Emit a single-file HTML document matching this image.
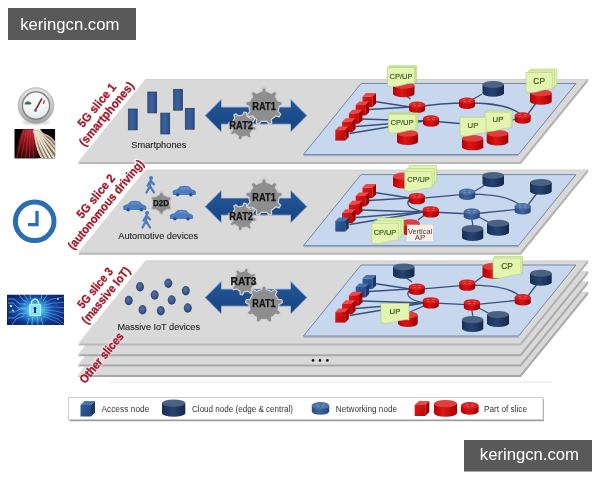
<!DOCTYPE html><html><head><meta charset="utf-8"><style>html,body{margin:0;padding:0;background:#fff;width:600px;height:480px;overflow:hidden}svg{display:block}text{font-family:"Liberation Sans",sans-serif}</style></head><body>
<svg style="opacity:0.999" width="600" height="480" viewBox="0 0 600 480">
<defs>
<linearGradient id="gRed" x1="0" x2="1" y1="0" y2="0"><stop offset="0" stop-color="#b30000"/><stop offset="0.4" stop-color="#de1515"/><stop offset="1" stop-color="#a50000"/></linearGradient>
<linearGradient id="gCubeR" x1="0" x2="1" y1="0" y2="1"><stop offset="0" stop-color="#e01a1a"/><stop offset="1" stop-color="#b80404"/></linearGradient>
<linearGradient id="gCubeB" x1="0" x2="1" y1="0" y2="1"><stop offset="0" stop-color="#2f5d9a"/><stop offset="1" stop-color="#22467e"/></linearGradient>
<linearGradient id="gNavy" x1="0" x2="1" y1="0" y2="0"><stop offset="0" stop-color="#183057"/><stop offset="0.45" stop-color="#264471"/><stop offset="1" stop-color="#15284a"/></linearGradient>
<linearGradient id="gRedN" x1="0" x2="1" y1="0" y2="0"><stop offset="0" stop-color="#b00000"/><stop offset="0.45" stop-color="#d81010"/><stop offset="1" stop-color="#a00000"/></linearGradient>
<linearGradient id="gBlueN" x1="0" x2="1" y1="0" y2="0"><stop offset="0" stop-color="#2a4c82"/><stop offset="0.45" stop-color="#3f649b"/><stop offset="1" stop-color="#26467a"/></linearGradient>
<linearGradient id="gBlue" x1="0" x2="1" y1="0" y2="0"><stop offset="0" stop-color="#2e5890"/><stop offset="0.45" stop-color="#4c7ab5"/><stop offset="1" stop-color="#285086"/></linearGradient>
<linearGradient id="gArrow" x1="0" x2="0" y1="0" y2="1"><stop offset="0" stop-color="#255899"/><stop offset="0.5" stop-color="#1d4d8c"/><stop offset="1" stop-color="#1a4580"/></linearGradient>
<linearGradient id="gPhone" x1="0" x2="1" y1="0" y2="0"><stop offset="0" stop-color="#30558c"/><stop offset="0.5" stop-color="#3a629e"/><stop offset="1" stop-color="#294a7f"/></linearGradient>
<radialGradient id="gDot" cx="0.45" cy="0.4" r="0.65"><stop offset="0" stop-color="#5573a6"/><stop offset="1" stop-color="#223e6c"/></radialGradient>
<linearGradient id="gBezel" x1="0" x2="0" y1="0" y2="1"><stop offset="0" stop-color="#e2e2e2"/><stop offset="0.55" stop-color="#c6c6c6"/><stop offset="1" stop-color="#a2a2a2"/></linearGradient>
<radialGradient id="gFace" cx="0.5" cy="0.35" r="0.7"><stop offset="0" stop-color="#ffffff"/><stop offset="0.7" stop-color="#eef2f4"/><stop offset="1" stop-color="#d7dde2"/></radialGradient>
<radialGradient id="gGlow" cx="0.5" cy="0.5" r="0.5"><stop offset="0" stop-color="#b8f6ff"/><stop offset="0.3" stop-color="#5cd4f4"/><stop offset="0.7" stop-color="#2a8ad8" stop-opacity="0.55"/><stop offset="1" stop-color="#1a4fb0" stop-opacity="0"/></radialGradient>
<radialGradient id="gLockBg" cx="0.5" cy="0.5" r="0.65"><stop offset="0" stop-color="#1f5cc0"/><stop offset="0.6" stop-color="#143e98"/><stop offset="1" stop-color="#0a1f66"/></radialGradient>
<radialGradient id="gRedFan" cx="0.68" cy="0.0" r="1.05"><stop offset="0" stop-color="#c8283a"/><stop offset="0.45" stop-color="#8c141c"/><stop offset="1" stop-color="#2a0404"/></radialGradient>
<clipPath id="clipLock"><rect x="7" y="294.5" width="57" height="30.5"/></clipPath>
<clipPath id="clipTrail"><rect x="14.3" y="129" width="41" height="29.5"/></clipPath>
<filter id="blur1" x="-20%" y="-20%" width="140%" height="140%"><feGaussianBlur stdDeviation="0.8"/></filter>
<filter id="blur05"><feGaussianBlur stdDeviation="0.45"/></filter>
</defs>
<rect width="600" height="480" fill="#fff"/>
<polygon points="145.5,293.9 588.5,293.9 521.0,376.9 78.0,376.9" fill="#a8a8a8"/><polygon points="145.5,291.9 588.5,291.9 521.0,374.9 78.0,374.9" fill="#d9d9d9"/><line x1="146.0" y1="292.4" x2="588.0" y2="292.4" stroke="#cfcfcf" stroke-width="0.8"/><line x1="588.1" y1="292.2" x2="520.6" y2="374.9" stroke="#ababab" stroke-width="1.1"/>
<polygon points="145.5,283.6 588.5,283.6 521.0,366.6 78.0,366.6" fill="#a8a8a8"/><polygon points="145.5,281.6 588.5,281.6 521.0,364.6 78.0,364.6" fill="#d9d9d9"/><line x1="146.0" y1="282.1" x2="588.0" y2="282.1" stroke="#cfcfcf" stroke-width="0.8"/><line x1="588.1" y1="281.90000000000003" x2="520.6" y2="364.6" stroke="#ababab" stroke-width="1.1"/>
<polygon points="145.5,273.3 588.5,273.3 521.0,356.3 78.0,356.3" fill="#a8a8a8"/><polygon points="145.5,271.3 588.5,271.3 521.0,354.3 78.0,354.3" fill="#d9d9d9"/><line x1="146.0" y1="271.8" x2="588.0" y2="271.8" stroke="#cfcfcf" stroke-width="0.8"/><line x1="588.1" y1="271.6" x2="520.6" y2="354.3" stroke="#ababab" stroke-width="1.1"/>
<polygon points="145.5,81 588.5,81 521.0,164 78.0,164" fill="#b9b9b9"/><polygon points="145.5,79 588.5,79 521.0,162 78.0,162" fill="#d9d9d9"/><line x1="146.0" y1="79.5" x2="588.0" y2="79.5" stroke="#cfcfcf" stroke-width="0.8"/><line x1="588.1" y1="79.3" x2="520.6" y2="162" stroke="#ababab" stroke-width="1.1"/>
<line x1="303.5" y1="155.5" x2="518.5" y2="155.5" stroke="#a9b4c4" stroke-width="1.4"/><polygon points="361,83.5 576,83.5 518.5,154.5 303.5,154.5" fill="#c7d7ed" stroke="#7189ad" stroke-width="1"/>
<polygon points="145.5,171.7 588.5,171.7 521.0,254.7 78.0,254.7" fill="#b9b9b9"/><polygon points="145.5,169.7 588.5,169.7 521.0,252.7 78.0,252.7" fill="#d9d9d9"/><line x1="146.0" y1="170.2" x2="588.0" y2="170.2" stroke="#cfcfcf" stroke-width="0.8"/><line x1="588.1" y1="170.0" x2="520.6" y2="252.7" stroke="#ababab" stroke-width="1.1"/>
<line x1="303.5" y1="246.6" x2="518.5" y2="246.6" stroke="#a9b4c4" stroke-width="1.4"/><polygon points="361,174.6 576,174.6 518.5,245.6 303.5,245.6" fill="#c7d7ed" stroke="#7189ad" stroke-width="1"/>
<polygon points="145.5,262.5 588.5,262.5 521.0,345.5 78.0,345.5" fill="#b9b9b9"/><polygon points="145.5,260.5 588.5,260.5 521.0,343.5 78.0,343.5" fill="#d9d9d9"/><line x1="146.0" y1="261.0" x2="588.0" y2="261.0" stroke="#cfcfcf" stroke-width="0.8"/><line x1="588.1" y1="260.8" x2="520.6" y2="343.5" stroke="#ababab" stroke-width="1.1"/>
<line x1="303.5" y1="337.0" x2="518.5" y2="337.0" stroke="#a9b4c4" stroke-width="1.4"/><polygon points="361,265 576,265 518.5,336 303.5,336" fill="#c7d7ed" stroke="#7189ad" stroke-width="1"/>
<line x1="374.5" y1="101.5" x2="410" y2="107" stroke="#38507e" stroke-width="1.3"/><line x1="369" y1="109.5" x2="410" y2="107" stroke="#38507e" stroke-width="1.3"/><line x1="362" y1="119" x2="424" y2="121" stroke="#38507e" stroke-width="1.3"/><line x1="355.5" y1="126.5" x2="424" y2="121" stroke="#38507e" stroke-width="1.3"/><line x1="349.5" y1="133.5" x2="424" y2="121" stroke="#38507e" stroke-width="1.3"/>
<line x1="410.5" y1="99" x2="405" y2="95" stroke="#38507e" stroke-width="1.3"/>
<line x1="481.7" y1="94.3" x2="470" y2="101" stroke="#38507e" stroke-width="1.3"/>
<path d="M417,107 C435,104 450,103 467,103 C490,103 512,105 522.5,116" fill="none" stroke="#38507e" stroke-width="1.3"/>
<line x1="430" y1="121" x2="460" y2="123.5" stroke="#38507e" stroke-width="1.3"/>
<line x1="510" y1="121" x2="518" y2="118" stroke="#38507e" stroke-width="1.3"/>
<line x1="528" y1="114" x2="536" y2="103" stroke="#38507e" stroke-width="1.3"/>
<rect x="362.5" y="96.5" width="10.0" height="10.5" fill="url(#gCubeR)"/><polygon points="362.5,96.5 366.0,93.0 376.0,93.0 372.5,96.5" fill="#ec4848"/><polygon points="372.5,96.5 376.0,93.0 376.0,103.5 372.5,107.0" fill="#a00000"/><rect x="355.7" y="104.9" width="10.0" height="10.5" fill="url(#gCubeR)"/><polygon points="355.7,104.9 359.2,101.4 369.2,101.4 365.7,104.9" fill="#ec4848"/><polygon points="365.7,104.9 369.2,101.4 369.2,111.9 365.7,115.4" fill="#a00000"/><rect x="348.9" y="113.3" width="10.0" height="10.5" fill="url(#gCubeR)"/><polygon points="348.9,113.3 352.4,109.8 362.4,109.8 358.9,113.3" fill="#ec4848"/><polygon points="358.9,113.3 362.4,109.8 362.4,120.3 358.9,123.8" fill="#a00000"/><rect x="342.1" y="121.7" width="10.0" height="10.5" fill="url(#gCubeR)"/><polygon points="342.1,121.7 345.6,118.2 355.6,118.2 352.1,121.7" fill="#ec4848"/><polygon points="352.1,121.7 355.6,118.2 355.6,128.7 352.1,132.2" fill="#a00000"/><rect x="335.3" y="130.1" width="10.0" height="10.5" fill="url(#gCubeR)"/><polygon points="335.3,130.1 338.8,126.6 348.8,126.6 345.3,130.1" fill="#ec4848"/><polygon points="345.3,130.1 348.8,126.6 348.8,137.1 345.3,140.6" fill="#a00000"/>
<path d="M393.0,85.4 L393.0,94.1 A10.8,3.4 0 0 0 414.5,94.1 L414.5,85.4 Z" fill="url(#gRed)"/><ellipse cx="403.8" cy="85.4" rx="10.8" ry="3.4" fill="#e03c3c"/>
<path d="M389.6,65.8 L416.6,65.8 L416.6,81.8 C409.0,80.2 400.4,86.6 389.6,84.6 Z" fill="#e3f5b0" stroke="#b0d47c" stroke-width="0.7"/><path d="M388.6,66.7 L415.6,66.7 L415.6,82.7 C408.0,81.1 399.4,87.5 388.6,85.5 Z" fill="#e3f5b0" stroke="#b0d47c" stroke-width="0.7"/><path d="M387.5,67.5 L414.5,67.5 L414.5,83.5 C406.9,81.9 398.3,88.3 387.5,86.3 Z" fill="#e3f5b0" stroke="#b0d47c" stroke-width="0.7"/><text x="401.00" y="78.90" font-size="7.8" fill="#2f5516" text-anchor="middle" textLength="22.8" lengthAdjust="spacingAndGlyphs" stroke="#2f5516" stroke-width="0.15">CP/UP</text>
<path d="M409.0,104.7 L409.0,109.9 A8.0,3.1 0 0 0 425.0,109.9 L425.0,104.7 Z" fill="url(#gRedN)"/><ellipse cx="417.0" cy="104.7" rx="8.0" ry="3.1" fill="#d82222"/><path d="M412.5,103.8 l3,0 M418.5,103.8 l3,0 M413.5,105.7 l2.5,0 M418.0,105.7 l2.5,0" stroke="#ee6a6a" stroke-width="0.7"/>
<path d="M459.0,100.6 L459.0,105.8 A8.0,3.1 0 0 0 475.0,105.8 L475.0,100.6 Z" fill="url(#gRedN)"/><ellipse cx="467.0" cy="100.6" rx="8.0" ry="3.1" fill="#d82222"/><path d="M462.5,99.7 l3,0 M468.5,99.7 l3,0 M463.5,101.6 l2.5,0 M468.0,101.6 l2.5,0" stroke="#ee6a6a" stroke-width="0.7"/>
<path d="M423.0,118.4 L423.0,123.6 A8.0,3.1 0 0 0 439.0,123.6 L439.0,118.4 Z" fill="url(#gRedN)"/><ellipse cx="431.0" cy="118.4" rx="8.0" ry="3.1" fill="#d82222"/><path d="M426.5,117.5 l3,0 M432.5,117.5 l3,0 M427.5,119.4 l2.5,0 M432.0,119.4 l2.5,0" stroke="#ee6a6a" stroke-width="0.7"/>
<path d="M514.7,115.4 L514.7,120.6 A8.0,3.1 0 0 0 530.7,120.6 L530.7,115.4 Z" fill="url(#gRedN)"/><ellipse cx="522.7" cy="115.4" rx="8.0" ry="3.1" fill="#d82222"/><path d="M518.2,114.5 l3,0 M524.2,114.5 l3,0 M519.2,116.4 l2.5,0 M523.7,116.4 l2.5,0" stroke="#ee6a6a" stroke-width="0.7"/>
<path d="M482.5,84.5 L482.5,93.5 A10.8,3.5 0 0 0 504.0,93.5 L504.0,84.5 Z" fill="url(#gNavy)"/><ellipse cx="493.2" cy="84.5" rx="10.8" ry="3.5" fill="#4c6283"/>
<path d="M397.0,133.3 L397.0,141.7 A10.5,3.3 0 0 0 418.0,141.7 L418.0,133.3 Z" fill="url(#gRed)"/><ellipse cx="407.5" cy="133.3" rx="10.5" ry="3.3" fill="#e03c3c"/>
<path d="M390.3,112.9 L417.8,112.9 L417.8,128.7 C410.1,127.1 401.3,133.4 390.3,131.4 Z" fill="#e3f5b0" stroke="#b0d47c" stroke-width="0.7"/><path d="M389.3,113.6 L416.8,113.6 L416.8,129.4 C409.1,127.8 400.3,134.1 389.3,132.1 Z" fill="#e3f5b0" stroke="#b0d47c" stroke-width="0.7"/><path d="M388.3,114.3 L415.8,114.3 L415.8,130.1 C408.1,128.5 399.3,134.8 388.3,132.8 Z" fill="#e3f5b0" stroke="#b0d47c" stroke-width="0.7"/><text x="402.05" y="125.20" font-size="7.8" fill="#2f5516" text-anchor="middle" textLength="23.2" lengthAdjust="spacingAndGlyphs" stroke="#2f5516" stroke-width="0.15">CP/UP</text>
<path d="M530.0,92.9 L530.0,101.4 A10.8,3.4 0 0 0 551.7,101.4 L551.7,92.9 Z" fill="url(#gRed)"/><ellipse cx="540.9" cy="92.9" rx="10.8" ry="3.4" fill="#e03c3c"/>
<path d="M530.4,69.1 L556.7,69.1 L556.7,85.9 C549.3,84.2 540.9,90.9 530.4,88.8 Z" fill="#e3f5b0" stroke="#b0d47c" stroke-width="0.7"/><path d="M528.2,70.8 L554.5,70.8 L554.5,87.6 C547.1,85.9 538.7,92.6 528.2,90.5 Z" fill="#e3f5b0" stroke="#b0d47c" stroke-width="0.7"/><path d="M526.0,72.5 L552.3,72.5 L552.3,89.3 C544.9,87.6 536.5,94.3 526.0,92.2 Z" fill="#e3f5b0" stroke="#b0d47c" stroke-width="0.7"/><text x="539.15" y="84.20" font-size="8.4" fill="#2f5516" text-anchor="middle" stroke="#2f5516" stroke-width="0.15">CP</text>
<path d="M486.7,133.4 L486.7,142.0 A10.8,3.4 0 0 0 508.3,142.0 L508.3,133.4 Z" fill="url(#gRed)"/><ellipse cx="497.5" cy="133.4" rx="10.8" ry="3.4" fill="#e03c3c"/>
<path d="M486.2,111.0 L512.2,111.0 L512.2,127.0 C504.9,125.4 496.6,131.8 486.2,129.8 Z" fill="#e3f5b0" stroke="#b0d47c" stroke-width="0.7"/><path d="M485.0,112.2 L511.0,112.2 L511.0,128.2 C503.7,126.6 495.4,133.0 485.0,131.0 Z" fill="#e3f5b0" stroke="#b0d47c" stroke-width="0.7"/><text x="498.00" y="121.80" font-size="7.8" fill="#2f5516" text-anchor="middle" stroke="#2f5516" stroke-width="0.15">UP</text>
<path d="M462.0,138.4 L462.0,147.2 A10.7,3.4 0 0 0 483.3,147.2 L483.3,138.4 Z" fill="url(#gRed)"/><ellipse cx="472.6" cy="138.4" rx="10.7" ry="3.4" fill="#e03c3c"/>
<path d="M460.0,117.3 L486.0,117.3 L486.0,133.1 C478.7,131.5 470.4,137.8 460.0,135.8 Z" fill="#e3f5b0" stroke="#b0d47c" stroke-width="0.7"/><text x="473.00" y="127.50" font-size="7.8" fill="#2f5516" text-anchor="middle" stroke="#2f5516" stroke-width="0.15">UP</text>
<line x1="374.5" y1="192.5" x2="410" y2="198" stroke="#38507e" stroke-width="1.3"/><line x1="369" y1="200.5" x2="410" y2="198" stroke="#38507e" stroke-width="1.3"/><line x1="362" y1="210" x2="424" y2="212" stroke="#38507e" stroke-width="1.3"/><line x1="355.5" y1="217.5" x2="424" y2="212" stroke="#38507e" stroke-width="1.3"/><line x1="349.5" y1="224.5" x2="424" y2="212" stroke="#38507e" stroke-width="1.3"/>
<path d="M417,198.6 L467,194.2 C492,194.2 516,197 522.7,208.8 L471.8,214 L430.8,212 C414,212 403,205 410,199" fill="none" stroke="#38507e" stroke-width="1.3"/>
<line x1="475" y1="191" x2="485" y2="185" stroke="#38507e" stroke-width="1.3"/>
<line x1="528" y1="205" x2="537" y2="193" stroke="#38507e" stroke-width="1.3"/>
<line x1="471" y1="214" x2="473" y2="226" stroke="#38507e" stroke-width="1.3"/>
<line x1="477" y1="216" x2="492" y2="224" stroke="#38507e" stroke-width="1.3"/>
<line x1="426" y1="214" x2="418" y2="220" stroke="#38507e" stroke-width="1.3"/>
<rect x="362.5" y="187.5" width="10.0" height="10.5" fill="url(#gCubeR)"/><polygon points="362.5,187.5 366.0,184.0 376.0,184.0 372.5,187.5" fill="#ec4848"/><polygon points="372.5,187.5 376.0,184.0 376.0,194.5 372.5,198.0" fill="#a00000"/><rect x="355.7" y="195.9" width="10.0" height="10.5" fill="url(#gCubeR)"/><polygon points="355.7,195.9 359.2,192.4 369.2,192.4 365.7,195.9" fill="#ec4848"/><polygon points="365.7,195.9 369.2,192.4 369.2,202.9 365.7,206.4" fill="#a00000"/><rect x="348.9" y="204.3" width="10.0" height="10.5" fill="url(#gCubeR)"/><polygon points="348.9,204.3 352.4,200.8 362.4,200.8 358.9,204.3" fill="#ec4848"/><polygon points="358.9,204.3 362.4,200.8 362.4,211.3 358.9,214.8" fill="#a00000"/><rect x="342.1" y="212.7" width="10.0" height="10.5" fill="url(#gCubeR)"/><polygon points="342.1,212.7 345.6,209.2 355.6,209.2 352.1,212.7" fill="#ec4848"/><polygon points="352.1,212.7 355.6,209.2 355.6,219.7 352.1,223.2" fill="#a00000"/><rect x="335.3" y="221.1" width="10.0" height="10.5" fill="url(#gCubeB)"/><polygon points="335.3,221.1 338.8,217.6 348.8,217.6 345.3,221.1" fill="#4a74ad"/><polygon points="345.3,221.1 348.8,217.6 348.8,228.1 345.3,231.6" fill="#1a3766"/>
<path d="M393.0,176.2 L393.0,185.2 A10.8,3.6 0 0 0 414.5,185.2 L414.5,176.2 Z" fill="url(#gRed)"/><ellipse cx="403.8" cy="176.2" rx="10.8" ry="3.6" fill="#e03c3c"/>
<path d="M409.1,165.5 L436.6,165.5 L436.6,181.9 C428.9,180.3 420.1,186.8 409.1,184.8 Z" fill="#e3f5b0" stroke="#b0d47c" stroke-width="0.7"/><path d="M406.9,168.6 L434.4,168.6 L434.4,185.0 C426.7,183.4 417.9,189.9 406.9,187.9 Z" fill="#e3f5b0" stroke="#b0d47c" stroke-width="0.7"/><path d="M404.7,171.7 L432.2,171.7 L432.2,188.1 C424.5,186.5 415.7,193.0 404.7,191.0 Z" fill="#e3f5b0" stroke="#b0d47c" stroke-width="0.7"/><text x="418.45" y="182.00" font-size="8" fill="#2f5516" text-anchor="middle" textLength="22.5" lengthAdjust="spacingAndGlyphs" stroke="#2f5516" stroke-width="0.15">CP/UP</text>
<path d="M408.8,196.0 L408.8,201.2 A8.0,3.1 0 0 0 424.8,201.2 L424.8,196.0 Z" fill="url(#gRedN)"/><ellipse cx="416.8" cy="196.0" rx="8.0" ry="3.1" fill="#d82222"/><path d="M412.3,195.1 l3,0 M418.3,195.1 l3,0 M413.3,197.0 l2.5,0 M417.8,197.0 l2.5,0" stroke="#ee6a6a" stroke-width="0.7"/>
<path d="M422.8,209.3 L422.8,214.5 A8.0,3.1 0 0 0 438.8,214.5 L438.8,209.3 Z" fill="url(#gRedN)"/><ellipse cx="430.8" cy="209.3" rx="8.0" ry="3.1" fill="#d82222"/><path d="M426.3,208.4 l3,0 M432.3,208.4 l3,0 M427.3,210.3 l2.5,0 M431.8,210.3 l2.5,0" stroke="#ee6a6a" stroke-width="0.7"/>
<path d="M459.2,191.6 L459.2,196.8 A8.0,3.1 0 0 0 475.2,196.8 L475.2,191.6 Z" fill="url(#gBlueN)"/><ellipse cx="467.2" cy="191.6" rx="8.0" ry="3.1" fill="#4d71a6"/><path d="M462.7,190.7 l3,0 M468.7,190.7 l3,0 M463.7,192.6 l2.5,0 M468.2,192.6 l2.5,0" stroke="#86a4cc" stroke-width="0.7"/>
<path d="M463.8,211.4 L463.8,216.6 A8.0,3.1 0 0 0 479.8,216.6 L479.8,211.4 Z" fill="url(#gBlueN)"/><ellipse cx="471.8" cy="211.4" rx="8.0" ry="3.1" fill="#4d71a6"/><path d="M467.3,210.5 l3,0 M473.3,210.5 l3,0 M468.3,212.4 l2.5,0 M472.8,212.4 l2.5,0" stroke="#86a4cc" stroke-width="0.7"/>
<path d="M514.7,206.2 L514.7,211.4 A8.0,3.1 0 0 0 530.7,211.4 L530.7,206.2 Z" fill="url(#gBlueN)"/><ellipse cx="522.7" cy="206.2" rx="8.0" ry="3.1" fill="#4d71a6"/><path d="M518.2,205.3 l3,0 M524.2,205.3 l3,0 M519.2,207.2 l2.5,0 M523.7,207.2 l2.5,0" stroke="#86a4cc" stroke-width="0.7"/>
<path d="M482.5,175.4 L482.5,184.1 A10.8,3.4 0 0 0 504.0,184.1 L504.0,175.4 Z" fill="url(#gNavy)"/><ellipse cx="493.2" cy="175.4" rx="10.8" ry="3.4" fill="#4c6283"/>
<path d="M530.0,182.5 L530.0,191.3 A10.8,3.5 0 0 0 551.7,191.3 L551.7,182.5 Z" fill="url(#gNavy)"/><ellipse cx="540.9" cy="182.5" rx="10.8" ry="3.5" fill="#4c6283"/>
<path d="M487.0,223.3 L487.0,232.3 A11.0,3.5 0 0 0 509.0,232.3 L509.0,223.3 Z" fill="url(#gNavy)"/><ellipse cx="498.0" cy="223.3" rx="11.0" ry="3.5" fill="#4c6283"/>
<path d="M462.0,228.6 L462.0,237.7 A10.7,3.6 0 0 0 483.3,237.7 L483.3,228.6 Z" fill="url(#gNavy)"/><ellipse cx="472.6" cy="228.6" rx="10.7" ry="3.6" fill="#4c6283"/>
<path d="M400.5,222.8 L400.5,231.8 A9.5,3.5 0 0 0 419.5,231.8 L419.5,222.8 Z" fill="url(#gRed)"/><ellipse cx="410.0" cy="222.8" rx="9.5" ry="3.5" fill="#e03c3c"/>
<path d="M377.1,218.0 L403.7,218.0 L403.7,235.1 C396.3,233.4 387.7,240.3 377.1,238.1 Z" fill="#e3f5b0" stroke="#b0d47c" stroke-width="0.7"/><path d="M374.4,220.7 L401.0,220.7 L401.0,237.8 C393.6,236.1 385.0,242.9 374.4,240.8 Z" fill="#e3f5b0" stroke="#b0d47c" stroke-width="0.7"/><path d="M371.7,223.3 L398.3,223.3 L398.3,240.4 C390.9,238.7 382.3,245.6 371.7,243.4 Z" fill="#e3f5b0" stroke="#b0d47c" stroke-width="0.7"/><text x="385.00" y="234.70" font-size="7.6" fill="#2f5516" text-anchor="middle" textLength="22.6" lengthAdjust="spacingAndGlyphs" stroke="#2f5516" stroke-width="0.15">CP/UP</text>
<rect x="407" y="224.7" width="26" height="16.3" fill="#fcefe5"/>
<text x="420.10" y="233.70" font-size="7.8" fill="#4a4040" text-anchor="middle" textLength="24.2" lengthAdjust="spacingAndGlyphs">Vertical</text>
<text x="420.00" y="240.20" font-size="7.8" fill="#4a4040" text-anchor="middle">AP</text>
<line x1="374.5" y1="283.5" x2="410" y2="289" stroke="#38507e" stroke-width="1.3"/><line x1="369" y1="291.5" x2="410" y2="289" stroke="#38507e" stroke-width="1.3"/><line x1="362" y1="301" x2="424" y2="303" stroke="#38507e" stroke-width="1.3"/><line x1="355.5" y1="308.5" x2="424" y2="303" stroke="#38507e" stroke-width="1.3"/><line x1="349.5" y1="315.5" x2="424" y2="303" stroke="#38507e" stroke-width="1.3"/>
<path d="M417,289.3 L467.2,285.1 C492,285.1 516,288 522.7,299.8 L471.9,304.9 L430.8,302.9 C414,303 403,296 410,290" fill="none" stroke="#38507e" stroke-width="1.3"/>
<line x1="412" y1="282" x2="405" y2="277" stroke="#38507e" stroke-width="1.3"/>
<line x1="475" y1="282" x2="486" y2="274" stroke="#38507e" stroke-width="1.3"/>
<line x1="528" y1="296" x2="537" y2="284" stroke="#38507e" stroke-width="1.3"/>
<line x1="471" y1="305" x2="473" y2="317" stroke="#38507e" stroke-width="1.3"/>
<line x1="477" y1="307" x2="492" y2="315" stroke="#38507e" stroke-width="1.3"/>
<line x1="426" y1="305" x2="410" y2="312" stroke="#38507e" stroke-width="1.3"/>
<rect x="362.5" y="278.5" width="10.0" height="10.5" fill="url(#gCubeB)"/><polygon points="362.5,278.5 366.0,275.0 376.0,275.0 372.5,278.5" fill="#4a74ad"/><polygon points="372.5,278.5 376.0,275.0 376.0,285.5 372.5,289.0" fill="#1a3766"/><rect x="355.7" y="286.9" width="10.0" height="10.5" fill="url(#gCubeB)"/><polygon points="355.7,286.9 359.2,283.4 369.2,283.4 365.7,286.9" fill="#4a74ad"/><polygon points="365.7,286.9 369.2,283.4 369.2,293.9 365.7,297.4" fill="#1a3766"/><rect x="348.9" y="295.3" width="10.0" height="10.5" fill="url(#gCubeR)"/><polygon points="348.9,295.3 352.4,291.8 362.4,291.8 358.9,295.3" fill="#ec4848"/><polygon points="358.9,295.3 362.4,291.8 362.4,302.3 358.9,305.8" fill="#a00000"/><rect x="342.1" y="303.7" width="10.0" height="10.5" fill="url(#gCubeR)"/><polygon points="342.1,303.7 345.6,300.2 355.6,300.2 352.1,303.7" fill="#ec4848"/><polygon points="352.1,303.7 355.6,300.2 355.6,310.7 352.1,314.2" fill="#a00000"/><rect x="335.3" y="312.1" width="10.0" height="10.5" fill="url(#gCubeR)"/><polygon points="335.3,312.1 338.8,308.6 348.8,308.6 345.3,312.1" fill="#ec4848"/><polygon points="345.3,312.1 348.8,308.6 348.8,319.1 345.3,322.6" fill="#a00000"/>
<path d="M393.0,266.9 L393.0,275.6 A10.8,3.4 0 0 0 414.5,275.6 L414.5,266.9 Z" fill="url(#gNavy)"/><ellipse cx="403.8" cy="266.9" rx="10.8" ry="3.4" fill="#4c6283"/>
<path d="M408.8,286.7 L408.8,291.9 A8.0,3.1 0 0 0 424.8,291.9 L424.8,286.7 Z" fill="url(#gRedN)"/><ellipse cx="416.8" cy="286.7" rx="8.0" ry="3.1" fill="#d82222"/><path d="M412.3,285.8 l3,0 M418.3,285.8 l3,0 M413.3,287.7 l2.5,0 M417.8,287.7 l2.5,0" stroke="#ee6a6a" stroke-width="0.7"/>
<path d="M422.8,300.3 L422.8,305.5 A8.0,3.1 0 0 0 438.8,305.5 L438.8,300.3 Z" fill="url(#gRedN)"/><ellipse cx="430.8" cy="300.3" rx="8.0" ry="3.1" fill="#d82222"/><path d="M426.3,299.4 l3,0 M432.3,299.4 l3,0 M427.3,301.3 l2.5,0 M431.8,301.3 l2.5,0" stroke="#ee6a6a" stroke-width="0.7"/>
<path d="M459.2,282.5 L459.2,287.7 A8.0,3.1 0 0 0 475.2,287.7 L475.2,282.5 Z" fill="url(#gRedN)"/><ellipse cx="467.2" cy="282.5" rx="8.0" ry="3.1" fill="#d82222"/><path d="M462.7,281.6 l3,0 M468.7,281.6 l3,0 M463.7,283.5 l2.5,0 M468.2,283.5 l2.5,0" stroke="#ee6a6a" stroke-width="0.7"/>
<path d="M463.9,302.3 L463.9,307.5 A8.0,3.1 0 0 0 479.9,307.5 L479.9,302.3 Z" fill="url(#gRedN)"/><ellipse cx="471.9" cy="302.3" rx="8.0" ry="3.1" fill="#d82222"/><path d="M467.4,301.4 l3,0 M473.4,301.4 l3,0 M468.4,303.3 l2.5,0 M472.9,303.3 l2.5,0" stroke="#ee6a6a" stroke-width="0.7"/>
<path d="M514.7,297.2 L514.7,302.4 A8.0,3.1 0 0 0 530.7,302.4 L530.7,297.2 Z" fill="url(#gRedN)"/><ellipse cx="522.7" cy="297.2" rx="8.0" ry="3.1" fill="#d82222"/><path d="M518.2,296.3 l3,0 M524.2,296.3 l3,0 M519.2,298.2 l2.5,0 M523.7,298.2 l2.5,0" stroke="#ee6a6a" stroke-width="0.7"/>
<path d="M482.5,266.5 L482.5,275.5 A10.8,3.5 0 0 0 504.0,275.5 L504.0,266.5 Z" fill="url(#gRed)"/><ellipse cx="493.2" cy="266.5" rx="10.8" ry="3.5" fill="#e03c3c"/>
<path d="M494.5,256.3 L522.5,256.3 L522.5,273.1 C514.7,271.4 505.7,278.1 494.5,276.0 Z" fill="#e3f5b0" stroke="#b0d47c" stroke-width="0.7"/><path d="M493.0,258.0 L521.0,258.0 L521.0,274.8 C513.2,273.1 504.2,279.8 493.0,277.7 Z" fill="#e3f5b0" stroke="#b0d47c" stroke-width="0.7"/><text x="507.00" y="269.20" font-size="8.4" fill="#2f5516" text-anchor="middle" stroke="#2f5516" stroke-width="0.15">CP</text>
<path d="M530.0,273.3 L530.0,282.3 A10.8,3.5 0 0 0 551.7,282.3 L551.7,273.3 Z" fill="url(#gNavy)"/><ellipse cx="540.9" cy="273.3" rx="10.8" ry="3.5" fill="#4c6283"/>
<path d="M487.0,314.5 L487.0,323.5 A11.0,3.5 0 0 0 509.0,323.5 L509.0,314.5 Z" fill="url(#gNavy)"/><ellipse cx="498.0" cy="314.5" rx="11.0" ry="3.5" fill="#4c6283"/>
<path d="M462.0,319.6 L462.0,328.7 A10.7,3.6 0 0 0 483.3,328.7 L483.3,319.6 Z" fill="url(#gNavy)"/><ellipse cx="472.6" cy="319.6" rx="10.7" ry="3.6" fill="#4c6283"/>
<path d="M398.0,314.9 L398.0,323.6 A9.8,3.4 0 0 0 417.7,323.6 L417.7,314.9 Z" fill="url(#gRed)"/><ellipse cx="407.9" cy="314.9" rx="9.8" ry="3.4" fill="#e03c3c"/>
<path d="M381.0,303.5 L409.0,303.5 L409.0,319.9 C401.2,318.3 392.2,324.8 381.0,322.8 Z" fill="#e3f5b0" stroke="#b0d47c" stroke-width="0.7"/><text x="395.00" y="314.30" font-size="7.8" fill="#2f5516" text-anchor="middle" stroke="#2f5516" stroke-width="0.15">UP</text>
<path d="M205,115.6 L221.5,99.0 L221.5,107.0 L290.5,107.0 L290.5,99.0 L307,115.6 L290.5,132.2 L290.5,124.19999999999999 L221.5,124.19999999999999 L221.5,132.2 Z" fill="url(#gArrow)" stroke="#a8bedc" stroke-width="0.9" stroke-linejoin="round"/>
<path d="M240.44,115.42 L242.45,115.22 L244.09,112.09 L246.45,112.57 L246.74,116.09 L248.52,117.06 L250.09,118.35 L253.46,117.29 L254.79,119.30 L252.51,121.99 L253.08,123.94 L253.28,125.95 L256.41,127.59 L255.93,129.95 L252.41,130.24 L251.44,132.02 L250.15,133.59 L251.21,136.96 L249.20,138.29 L246.51,136.01 L244.56,136.58 L242.55,136.78 L240.91,139.91 L238.55,139.43 L238.26,135.91 L236.48,134.94 L234.91,133.65 L231.54,134.71 L230.21,132.70 L232.49,130.01 L231.92,128.06 L231.72,126.05 L228.59,124.41 L229.07,122.05 L232.59,121.76 L233.56,119.98 L234.85,118.41 L233.79,115.04 L235.80,113.71 L238.49,115.99 Z" fill="#8e8e8e" stroke="#d2d2d2" stroke-width="1.2" stroke-linejoin="round"/>
<path d="M258.87,92.22 L261.50,91.52 L262.45,87.86 L265.55,87.86 L266.50,91.52 L269.13,92.22 L271.58,93.38 L274.66,91.18 L277.04,93.17 L275.41,96.59 L276.98,98.81 L278.12,101.27 L281.89,101.57 L282.42,104.62 L278.98,106.20 L278.76,108.90 L278.05,111.52 L280.74,114.18 L279.19,116.86 L275.55,115.85 L273.63,117.78 L271.40,119.33 L271.76,123.09 L268.85,124.15 L266.71,121.04 L264.00,121.28 L261.29,121.04 L259.15,124.15 L256.24,123.09 L256.60,119.33 L254.37,117.78 L252.45,115.85 L248.81,116.86 L247.26,114.18 L249.95,111.52 L249.24,108.90 L249.02,106.20 L245.58,104.62 L246.11,101.57 L249.88,101.27 L251.02,98.81 L252.59,96.59 L250.96,93.17 L253.34,91.18 L256.42,93.38 Z" fill="#8e8e8e" stroke="#d2d2d2" stroke-width="1.2" stroke-linejoin="round"/>
<text x="264.10" y="109.60" font-size="10.4" fill="#151515" text-anchor="middle" font-weight="bold" textLength="23.6" lengthAdjust="spacingAndGlyphs" stroke="#151515" stroke-width="0.25">RAT1</text>
<text x="241.20" y="128.80" font-size="10.4" fill="#151515" text-anchor="middle" font-weight="bold" textLength="23.8" lengthAdjust="spacingAndGlyphs" stroke="#151515" stroke-width="0.25">RAT2</text>
<path d="M205,206.6 L221.5,190.0 L221.5,198.0 L290.5,198.0 L290.5,190.0 L307,206.6 L290.5,223.2 L290.5,215.2 L221.5,215.2 L221.5,223.2 Z" fill="url(#gArrow)" stroke="#a8bedc" stroke-width="0.9" stroke-linejoin="round"/>
<path d="M240.44,206.42 L242.45,206.22 L244.09,203.09 L246.45,203.57 L246.74,207.09 L248.52,208.06 L250.09,209.35 L253.46,208.29 L254.79,210.30 L252.51,212.99 L253.08,214.94 L253.28,216.95 L256.41,218.59 L255.93,220.95 L252.41,221.24 L251.44,223.02 L250.15,224.59 L251.21,227.96 L249.20,229.29 L246.51,227.01 L244.56,227.58 L242.55,227.78 L240.91,230.91 L238.55,230.43 L238.26,226.91 L236.48,225.94 L234.91,224.65 L231.54,225.71 L230.21,223.70 L232.49,221.01 L231.92,219.06 L231.72,217.05 L228.59,215.41 L229.07,213.05 L232.59,212.76 L233.56,210.98 L234.85,209.41 L233.79,206.04 L235.80,204.71 L238.49,206.99 Z" fill="#8e8e8e" stroke="#d2d2d2" stroke-width="1.2" stroke-linejoin="round"/>
<path d="M258.87,183.22 L261.50,182.52 L262.45,178.86 L265.55,178.86 L266.50,182.52 L269.13,183.22 L271.58,184.38 L274.66,182.18 L277.04,184.17 L275.41,187.59 L276.98,189.81 L278.12,192.27 L281.89,192.57 L282.42,195.62 L278.98,197.20 L278.76,199.90 L278.05,202.52 L280.74,205.18 L279.19,207.86 L275.55,206.85 L273.63,208.78 L271.40,210.33 L271.76,214.09 L268.85,215.15 L266.71,212.04 L264.00,212.29 L261.29,212.04 L259.15,215.15 L256.24,214.09 L256.60,210.33 L254.37,208.78 L252.45,206.85 L248.81,207.86 L247.26,205.18 L249.95,202.52 L249.24,199.90 L249.02,197.20 L245.58,195.62 L246.11,192.57 L249.88,192.27 L251.02,189.81 L252.59,187.59 L250.96,184.17 L253.34,182.18 L256.42,184.38 Z" fill="#8e8e8e" stroke="#d2d2d2" stroke-width="1.2" stroke-linejoin="round"/>
<text x="264.10" y="200.60" font-size="10.4" fill="#151515" text-anchor="middle" font-weight="bold" textLength="23.6" lengthAdjust="spacingAndGlyphs" stroke="#151515" stroke-width="0.25">RAT1</text>
<text x="241.20" y="219.80" font-size="10.4" fill="#151515" text-anchor="middle" font-weight="bold" textLength="23.8" lengthAdjust="spacingAndGlyphs" stroke="#151515" stroke-width="0.25">RAT2</text>
<path d="M205,297.6 L221.5,281.0 L221.5,289.0 L290.5,289.0 L290.5,281.0 L307,297.6 L290.5,314.20000000000005 L290.5,306.20000000000005 L221.5,306.20000000000005 L221.5,314.20000000000005 Z" fill="url(#gArrow)" stroke="#a8bedc" stroke-width="0.9" stroke-linejoin="round"/>
<path d="M242.01,271.30 L243.96,271.11 L245.53,268.09 L247.81,268.55 L248.09,271.94 L249.81,272.88 L251.32,274.12 L254.57,273.10 L255.85,275.04 L253.65,277.63 L254.20,279.51 L254.39,281.46 L257.41,283.03 L256.95,285.31 L253.56,285.59 L252.62,287.31 L251.38,288.82 L252.40,292.07 L250.46,293.35 L247.87,291.15 L245.99,291.70 L244.04,291.89 L242.47,294.91 L240.19,294.45 L239.91,291.06 L238.19,290.12 L236.68,288.88 L233.43,289.90 L232.15,287.96 L234.35,285.37 L233.80,283.49 L233.61,281.54 L230.59,279.97 L231.05,277.69 L234.44,277.41 L235.38,275.69 L236.62,274.18 L235.60,270.93 L237.54,269.65 L240.13,271.85 Z" fill="#8e8e8e" stroke="#d2d2d2" stroke-width="1.2" stroke-linejoin="round"/>
<path d="M258.87,290.42 L261.50,289.72 L262.45,286.06 L265.55,286.06 L266.50,289.72 L269.13,290.42 L271.58,291.58 L274.66,289.38 L277.04,291.37 L275.41,294.79 L276.98,297.01 L278.12,299.47 L281.89,299.77 L282.42,302.82 L278.98,304.40 L278.76,307.10 L278.05,309.72 L280.74,312.38 L279.19,315.06 L275.55,314.05 L273.63,315.98 L271.40,317.53 L271.76,321.29 L268.85,322.35 L266.71,319.24 L264.00,319.49 L261.29,319.24 L259.15,322.35 L256.24,321.29 L256.60,317.53 L254.37,315.98 L252.45,314.05 L248.81,315.06 L247.26,312.38 L249.95,309.72 L249.24,307.10 L249.02,304.40 L245.58,302.82 L246.11,299.77 L249.88,299.47 L251.02,297.01 L252.59,294.79 L250.96,291.37 L253.34,289.38 L256.42,291.58 Z" fill="#8e8e8e" stroke="#d2d2d2" stroke-width="1.2" stroke-linejoin="round"/>
<text x="243.50" y="285.00" font-size="10.4" fill="#151515" text-anchor="middle" font-weight="bold" textLength="26" lengthAdjust="spacingAndGlyphs" stroke="#151515" stroke-width="0.25">RAT3</text>
<text x="264.00" y="307.40" font-size="10.4" fill="#151515" text-anchor="middle" font-weight="bold" textLength="23.3" lengthAdjust="spacingAndGlyphs" stroke="#151515" stroke-width="0.25">RAT1</text>
<rect x="128.3" y="109.0" width="8.9" height="20.9" fill="url(#gPhone)" stroke="#1f3a66" stroke-width="0.7"/>
<rect x="147.8" y="92.0" width="8.9" height="20.9" fill="url(#gPhone)" stroke="#1f3a66" stroke-width="0.7"/>
<rect x="160.8" y="113.1" width="8.9" height="20.9" fill="url(#gPhone)" stroke="#1f3a66" stroke-width="0.7"/>
<rect x="173.6" y="89.3" width="8.9" height="20.9" fill="url(#gPhone)" stroke="#1f3a66" stroke-width="0.7"/>
<rect x="185.3" y="108.3" width="8.9" height="20.9" fill="url(#gPhone)" stroke="#1f3a66" stroke-width="0.7"/>
<text x="131.30" y="148.30" font-size="9.6" fill="#262626" text-anchor="start" textLength="55" lengthAdjust="spacingAndGlyphs" stroke="#262626" stroke-width="0.12">Smartphones</text>
<text x="118.30" y="239.00" font-size="9.6" fill="#262626" text-anchor="start" textLength="79.7" lengthAdjust="spacingAndGlyphs" stroke="#262626" stroke-width="0.12">Automotive devices</text>
<text x="117.50" y="330.30" font-size="9.6" fill="#262626" text-anchor="start" textLength="82.5" lengthAdjust="spacingAndGlyphs" stroke="#262626" stroke-width="0.12">Massive IoT devices</text>
<ellipse cx="140" cy="286.7" rx="4" ry="4.7" fill="url(#gDot)"/>
<ellipse cx="168.3" cy="283.3" rx="4" ry="4.7" fill="url(#gDot)"/>
<ellipse cx="185.8" cy="290.8" rx="4" ry="4.7" fill="url(#gDot)"/>
<ellipse cx="154.7" cy="295" rx="4" ry="4.7" fill="url(#gDot)"/>
<ellipse cx="128.7" cy="300.5" rx="4" ry="4.7" fill="url(#gDot)"/>
<ellipse cx="171.7" cy="300" rx="4" ry="4.7" fill="url(#gDot)"/>
<ellipse cx="142.5" cy="309.7" rx="4" ry="4.7" fill="url(#gDot)"/>
<ellipse cx="160.8" cy="310.8" rx="4" ry="4.7" fill="url(#gDot)"/>
<ellipse cx="187.8" cy="308" rx="4" ry="4.7" fill="url(#gDot)"/>
<path d="M157.01,195.67 L158.82,194.89 L160.49,192.13 L162.11,192.13 L163.78,194.89 L165.59,195.67 L167.17,196.85 L170.40,196.92 L171.20,198.31 L169.65,201.14 L169.88,203.10 L169.65,205.06 L171.20,207.89 L170.40,209.28 L167.17,209.35 L165.59,210.53 L163.78,211.31 L162.11,214.07 L160.49,214.07 L158.82,211.31 L157.01,210.53 L155.43,209.35 L152.20,209.28 L151.40,207.89 L152.95,205.06 L152.72,203.10 L152.95,201.14 L151.40,198.31 L152.20,196.92 L155.43,196.85 Z" fill="#8a8a8a" stroke="#c4c4c4" stroke-width="1.2" stroke-linejoin="round"/>
<text x="161.10" y="205.80" font-size="9" fill="#151515" text-anchor="middle" font-weight="bold" textLength="16" lengthAdjust="spacingAndGlyphs" stroke="#151515" stroke-width="0.25">D2D</text>
<path d="M173.0,195.04000000000002 L172.5,191.57500000000002 Q173.44,189.79000000000002 177.2,189.37 L180.255,186.32500000000002 Q184.25,185.275 188.95,186.32500000000002 L192.005,189.58 Q196.0,190.21 196.0,193.15 L195.5,195.04000000000002 Z" fill="#4c7bbf"/><path d="M181.43,187.06 L179.55,189.47500000000002 L190.83,189.47500000000002 L188.48,187.06 Z" fill="#6d97cf" opacity="0.6"/><circle cx="177.67" cy="194.83" r="1.7850000000000001" fill="#2c5290"/><circle cx="190.83" cy="194.83" r="1.7850000000000001" fill="#2c5290"/>
<path d="M123.5,210.04000000000002 L123,206.57500000000002 Q123.94,204.79000000000002 127.7,204.37 L130.755,201.32500000000002 Q134.75,200.275 139.45,201.32500000000002 L142.505,204.58 Q146.5,205.21 146.5,208.15 L146.0,210.04000000000002 Z" fill="#4c7bbf"/><path d="M131.93,202.06 L130.05,204.47500000000002 L141.33,204.47500000000002 L138.98,202.06 Z" fill="#6d97cf" opacity="0.6"/><circle cx="128.17" cy="209.83" r="1.7850000000000001" fill="#2c5290"/><circle cx="141.33" cy="209.83" r="1.7850000000000001" fill="#2c5290"/>
<path d="M170.2,218.94 L169.7,215.475 Q170.64,213.69 174.39999999999998,213.26999999999998 L177.45499999999998,210.225 Q181.45,209.17499999999998 186.14999999999998,210.225 L189.20499999999998,213.48 Q193.2,214.10999999999999 193.2,217.04999999999998 L192.7,218.94 Z" fill="#4c7bbf"/><path d="M178.63,210.95999999999998 L176.75,213.375 L188.03,213.375 L185.67999999999998,210.95999999999998 Z" fill="#6d97cf" opacity="0.6"/><circle cx="174.86999999999998" cy="218.73" r="1.7850000000000001" fill="#2c5290"/><circle cx="188.03" cy="218.73" r="1.7850000000000001" fill="#2c5290"/>
<circle cx="151.0" cy="178" r="2" fill="#4d7bbf"/><path d="M150.5,180.5 L147.5,185.5 M150.5,180.5 L154.0,184.5 M150.5,180.5 L150.0,186 L146.5,192.5 M150.0,186 L154.0,192.5" stroke="#4d7bbf" stroke-width="2.2" stroke-linecap="round" stroke-linejoin="round" fill="none"/>
<circle cx="147.0" cy="213" r="2" fill="#4d7bbf"/><path d="M146.5,215.5 L143.5,220.5 M146.5,215.5 L150.0,219.5 M146.5,215.5 L146.0,221 L142.5,227.5 M146.0,221 L150.0,227.5" stroke="#4d7bbf" stroke-width="2.2" stroke-linecap="round" stroke-linejoin="round" fill="none"/>
<g transform="translate(100.5,107) rotate(-50.5)"><text x="-1.00" y="0.00" font-size="12" fill="#fff" text-anchor="middle" font-weight="bold" textLength="53" lengthAdjust="spacingAndGlyphs" stroke="#fff" stroke-width="2.6" stroke-linejoin="round" filter="url(#blur05)" opacity="0.9">5G slice 1</text><text x="-1.50" y="13.00" font-size="12" fill="#fff" text-anchor="middle" font-weight="bold" textLength="79" lengthAdjust="spacingAndGlyphs" stroke="#fff" stroke-width="2.6" stroke-linejoin="round" filter="url(#blur05)" opacity="0.9">(smartphones)</text><text x="-1.00" y="0.00" font-size="12" fill="#a3192a" text-anchor="middle" font-weight="bold" textLength="53" lengthAdjust="spacingAndGlyphs" stroke="#a3192a" stroke-width="0.3">5G slice 1</text><text x="-1.50" y="13.00" font-size="12" fill="#a3192a" text-anchor="middle" font-weight="bold" textLength="79" lengthAdjust="spacingAndGlyphs" stroke="#a3192a" stroke-width="0.3">(smartphones)</text></g>
<g transform="translate(99.5,198) rotate(-50.5)"><text x="-1.00" y="0.00" font-size="12" fill="#fff" text-anchor="middle" font-weight="bold" textLength="53" lengthAdjust="spacingAndGlyphs" stroke="#fff" stroke-width="2.6" stroke-linejoin="round" filter="url(#blur05)" opacity="0.9">5G slice 2</text><text x="-1.00" y="13.00" font-size="12" fill="#fff" text-anchor="middle" font-weight="bold" textLength="112" lengthAdjust="spacingAndGlyphs" stroke="#fff" stroke-width="2.6" stroke-linejoin="round" filter="url(#blur05)" opacity="0.9">(autonomous driving)</text><text x="-1.00" y="0.00" font-size="12" fill="#a3192a" text-anchor="middle" font-weight="bold" textLength="53" lengthAdjust="spacingAndGlyphs" stroke="#a3192a" stroke-width="0.3">5G slice 2</text><text x="-1.00" y="13.00" font-size="12" fill="#a3192a" text-anchor="middle" font-weight="bold" textLength="112" lengthAdjust="spacingAndGlyphs" stroke="#a3192a" stroke-width="0.3">(autonomous driving)</text></g>
<g transform="translate(99.5,289) rotate(-50.5)"><text x="-2.00" y="0.00" font-size="12" fill="#fff" text-anchor="middle" font-weight="bold" textLength="48.5" lengthAdjust="spacingAndGlyphs" stroke="#fff" stroke-width="2.6" stroke-linejoin="round" filter="url(#blur05)" opacity="0.9">5G slice 3</text><text x="-0.75" y="13.00" font-size="12" fill="#fff" text-anchor="middle" font-weight="bold" textLength="69.5" lengthAdjust="spacingAndGlyphs" stroke="#fff" stroke-width="2.6" stroke-linejoin="round" filter="url(#blur05)" opacity="0.9">(massive IoT)</text><text x="-2.00" y="0.00" font-size="12" fill="#a3192a" text-anchor="middle" font-weight="bold" textLength="48.5" lengthAdjust="spacingAndGlyphs" stroke="#a3192a" stroke-width="0.3">5G slice 3</text><text x="-0.75" y="13.00" font-size="12" fill="#a3192a" text-anchor="middle" font-weight="bold" textLength="69.5" lengthAdjust="spacingAndGlyphs" stroke="#a3192a" stroke-width="0.3">(massive IoT)</text></g>
<g transform="translate(104.6,360.4) rotate(-50.5)"><text x="0.00" y="0.00" font-size="12" fill="#fff" text-anchor="middle" font-weight="bold" textLength="62" lengthAdjust="spacingAndGlyphs" stroke="#fff" stroke-width="2.6" stroke-linejoin="round" filter="url(#blur05)" opacity="0.35">Other slices</text><text x="0.00" y="0.00" font-size="12" fill="#a3192a" text-anchor="middle" font-weight="bold" textLength="62" lengthAdjust="spacingAndGlyphs" stroke="#a3192a" stroke-width="0.3">Other slices</text></g>
<circle cx="313" cy="360.4" r="1.3" fill="#111"/>
<circle cx="320" cy="360.4" r="1.3" fill="#111"/>
<circle cx="327.4" cy="360.4" r="1.3" fill="#111"/>
<ellipse cx="36" cy="122.3" rx="14" ry="2.6" fill="#d8d8d8" filter="url(#blur1)"/>
<circle cx="36" cy="105.6" r="17.8" fill="url(#gBezel)"/>
<circle cx="36" cy="105.6" r="17.8" fill="none" stroke="#a6a6a6" stroke-width="0.8"/>
<circle cx="36" cy="105.6" r="14.3" fill="#7e7e7e"/>
<circle cx="36" cy="105.6" r="13" fill="url(#gFace)"/>
<path d="M24.3,104.2 q1.5,-3.2 4.2,-2.8 q2.6,0.4 3.1,2.3 l-1,0.7 q-3.2,0.2 -6.3,-0.2 Z" fill="#3d6a4c"/>
<path d="M35.3,110.3 L41.7,98.9" stroke="#8c1b25" stroke-width="1.6" stroke-linecap="round"/><path d="M44.4,100.2 L43.5,103.8" stroke="#b02030" stroke-width="1.1"/>
<circle cx="35.5" cy="110.6" r="1.4" fill="#6a6a6a"/>
<g clip-path="url(#clipTrail)">
<rect x="14.3" y="129" width="41" height="29.5" fill="#070303"/>
<path d="M23,129.3 L34,129.3 C35.5,140 36.8,150 37.6,158.5 L15,158.5 C16.5,149 19,139 23,129.3 Z" fill="url(#gRedFan)"/>
<path d="M24,129.5 L16.5,158.5" stroke="#e04850" stroke-width="1.1" opacity="0.35"/>
<path d="M26.5,129.5 L21,158.5" stroke="#e04850" stroke-width="1.1" opacity="0.4"/>
<path d="M28.5,129.5 L25.5,158.5" stroke="#e04850" stroke-width="1.1" opacity="0.45"/>
<path d="M30.5,129.5 L29.5,158.5" stroke="#e04850" stroke-width="1.1" opacity="0.4"/>
<path d="M32.5,129.5 L33.5,158.5" stroke="#e04850" stroke-width="1.1" opacity="0.35"/>
<path d="M33.5,130 C37,129 40,130 42,132 C47,136 52,139 55.3,141.5 L55.3,158.5 L41.5,158.5 C39,150 36,140 33.5,130 Z" fill="#7a6a58"/>
<path d="M33.8,130.5 C36.3,136.0 34.5,146.5 42.5,158.5" stroke="#d9ccb4" stroke-width="2.1" fill="none"/>
<path d="M35.0,130.5 C37.5,136.3 38.5,146.5 46.5,158.5" stroke="#e6dac4" stroke-width="2.1" fill="none"/>
<path d="M36.2,130.5 C38.7,136.6 42.5,146.5 50.5,158.5" stroke="#efe4d0" stroke-width="2.0" fill="none"/>
<path d="M37.4,130.5 C39.9,136.9 46.5,146.5 54.5,158.5" stroke="#e8dcc6" stroke-width="2.0" fill="none"/>
<path d="M38.6,130.5 C41.1,137.2 47.3,140.5 55.3,152.5" stroke="#e2d6c0" stroke-width="1.9" fill="none"/>
<path d="M39.6,130.5 C42.1,137.5 47.3,135.5 55.3,147.5" stroke="#d8ccb4" stroke-width="1.8" fill="none"/>
<path d="M40.5,130.5 C43.0,137.8 47.3,131 55.3,143" stroke="#cdc0a8" stroke-width="1.6" fill="none"/>
<path d="M33.5,129.6 Q37,128.8 40.5,130.2" stroke="#f4ecdc" stroke-width="1.6" fill="none"/>
</g>
<circle cx="34.7" cy="221.3" r="19.3" fill="none" stroke="#2b6cb3" stroke-width="5"/><path d="M37,211 L37,224.6 L28,224.6" stroke="#2b6cb3" stroke-width="3.3" fill="none" stroke-linejoin="miter"/>
<g clip-path="url(#clipLock)">
<rect x="7" y="294.5" width="57" height="30.5" fill="url(#gLockBg)"/>
<ellipse cx="35" cy="310" rx="20" ry="16" fill="url(#gGlow)"/>
<path d="M8,299 L14,299 L20,304 L26,304" stroke="#7fd8f4" stroke-width="0.7" fill="none" opacity="0.85"/>
<path d="M8,303 L13,303 L18,308 L25,308" stroke="#7fd8f4" stroke-width="0.7" fill="none" opacity="0.85"/>
<path d="M9,312 L15,312 L20,309 L26,309" stroke="#7fd8f4" stroke-width="0.7" fill="none" opacity="0.85"/>
<path d="M8,318 L14,318 L19,314 L26,313" stroke="#7fd8f4" stroke-width="0.7" fill="none" opacity="0.85"/>
<path d="M12,325 L16,319 L24,316" stroke="#7fd8f4" stroke-width="0.7" fill="none" opacity="0.85"/>
<path d="M19,295 L23,300 L27,302" stroke="#7fd8f4" stroke-width="0.7" fill="none" opacity="0.85"/>
<path d="M24,295 L28,300" stroke="#7fd8f4" stroke-width="0.7" fill="none" opacity="0.85"/>
<path d="M30,294.5 L30.5,299" stroke="#7fd8f4" stroke-width="0.7" fill="none" opacity="0.85"/>
<path d="M42,294.5 L41,299" stroke="#7fd8f4" stroke-width="0.7" fill="none" opacity="0.85"/>
<path d="M47,295 L43,301" stroke="#7fd8f4" stroke-width="0.7" fill="none" opacity="0.85"/>
<path d="M27,325 L29,318" stroke="#7fd8f4" stroke-width="0.7" fill="none" opacity="0.85"/>
<path d="M32,325 L32.5,317" stroke="#7fd8f4" stroke-width="0.7" fill="none" opacity="0.85"/>
<path d="M38,325 L37.5,317" stroke="#7fd8f4" stroke-width="0.7" fill="none" opacity="0.85"/>
<path d="M43,325 L41,318" stroke="#7fd8f4" stroke-width="0.7" fill="none" opacity="0.85"/>
<path d="M44,303.0 L52.0,299.0 L64,297.0" stroke="#6fcaf0" stroke-width="0.6" fill="none" opacity="0.8"/>
<path d="M44,305.2 L53.2,303.0 L64,302.4" stroke="#6fcaf0" stroke-width="0.6" fill="none" opacity="0.8"/>
<path d="M44,307.4 L54.4,307.0 L64,307.8" stroke="#6fcaf0" stroke-width="0.6" fill="none" opacity="0.8"/>
<path d="M44,309.6 L55.6,311.0 L64,313.2" stroke="#6fcaf0" stroke-width="0.6" fill="none" opacity="0.8"/>
<path d="M44,311.8 L56.8,315.0 L64,318.6" stroke="#6fcaf0" stroke-width="0.6" fill="none" opacity="0.8"/>
<path d="M44,314.0 L58.0,319.0 L64,324.0" stroke="#6fcaf0" stroke-width="0.6" fill="none" opacity="0.8"/>
<path d="M44,316.2 L59.2,323.0 L64,329.4" stroke="#6fcaf0" stroke-width="0.6" fill="none" opacity="0.8"/>
<circle cx="11" cy="306" r="1.3" fill="#a8e4f8"/><circle cx="13" cy="310.5" r="1.1" fill="#a8e4f8"/><circle cx="58" cy="299" r="1" fill="#8fd8f4"/>
<rect x="29.8" y="304.8" width="10.5" height="10.6" fill="#8fe8f8" fill-opacity="0.55" stroke="#e4fbff" stroke-width="0.9"/>
<path d="M31.6,304.8 L31.6,301.6 Q35,296.4 38.5,301.6 L38.5,304.8" stroke="#d8f8ff" stroke-width="1.3" fill="none"/>
<circle cx="35" cy="308.5" r="1.4" fill="#0b2060"/><path d="M34.3,309 L33.8,313 L36.2,313 L35.7,309 Z" fill="#0b2060"/>
</g>
<rect x="69.5" y="399" width="474.5" height="22.2" fill="#9a9a9a" filter="url(#blur05)"/>
<rect x="68.5" y="397.5" width="474.5" height="22" fill="#fff" stroke="#cfcfcf" stroke-width="1"/>
<rect x="80.5" y="405.0" width="10.5" height="11.5" fill="url(#gCubeB)"/><polygon points="80.5,405.0 84.5,401.0 95.0,401.0 91.0,405.0" fill="#4a74ad"/><polygon points="91.0,405.0 95.0,401.0 95.0,412.5 91.0,416.5" fill="#1a3766"/>
<text x="101.40" y="411.60" font-size="8.3" fill="#333" text-anchor="start" textLength="48" lengthAdjust="spacingAndGlyphs">Access node</text>
<path d="M162.0,403.1 L162.0,413.4 A11.7,3.6 0 0 0 185.3,413.4 L185.3,403.1 Z" fill="url(#gNavy)"/><ellipse cx="173.7" cy="403.1" rx="11.7" ry="3.6" fill="#4c6283"/>
<text x="192.00" y="411.60" font-size="8.3" fill="#333" text-anchor="start" textLength="101" lengthAdjust="spacingAndGlyphs">Cloud node (edge &amp; central)</text>
<path d="M311.8,405.6 L311.8,411.8 A8.8,3.6 0 0 0 329.2,411.8 L329.2,405.6 Z" fill="url(#gBlueN)"/><ellipse cx="320.5" cy="405.6" rx="8.8" ry="3.6" fill="#4d71a6"/><path d="M316.0,404.7 l3,0 M322.0,404.7 l3,0 M317.0,406.6 l2.5,0 M321.5,406.6 l2.5,0" stroke="#86a4cc" stroke-width="0.7"/>
<text x="335.80" y="411.60" font-size="8.3" fill="#333" text-anchor="start" textLength="61.2" lengthAdjust="spacingAndGlyphs">Networking node</text>
<rect x="414.7" y="405.0" width="10.6" height="11.0" fill="url(#gCubeR)"/><polygon points="414.7,405.0 418.7,401.0 429.3,401.0 425.3,405.0" fill="#ec4848"/><polygon points="425.3,405.0 429.3,401.0 429.3,412.0 425.3,416.0" fill="#a00000"/>
<path d="M434.0,403.6 L434.0,413.1 A11.5,3.6 0 0 0 457.0,413.1 L457.0,403.6 Z" fill="url(#gRed)"/><ellipse cx="445.5" cy="403.6" rx="11.5" ry="3.6" fill="#e03c3c"/>
<path d="M460.9,405.5 L460.9,411.3 A8.8,3.5 0 0 0 478.6,411.3 L478.6,405.5 Z" fill="url(#gRedN)"/><ellipse cx="469.8" cy="405.5" rx="8.8" ry="3.5" fill="#d82222"/><path d="M465.3,404.6 l3,0 M471.3,404.6 l3,0 M466.3,406.5 l2.5,0 M470.8,406.5 l2.5,0" stroke="#ee6a6a" stroke-width="0.7"/>
<text x="484.00" y="411.60" font-size="8.3" fill="#333" text-anchor="start" textLength="43" lengthAdjust="spacingAndGlyphs">Part of slice</text>
<line x1="110" y1="382" x2="552" y2="382" stroke="#e6e6e6" stroke-width="1"/>
<rect x="8" y="8" width="128" height="32" fill="#595959"/>
<text x="20.20" y="29.80" font-size="16.2" fill="#fff" text-anchor="start" textLength="99.2" lengthAdjust="spacingAndGlyphs">keringcn.com</text>
<rect x="464" y="440" width="128" height="31.5" fill="#595959"/>
<text x="479.80" y="459.70" font-size="16.2" fill="#fff" text-anchor="start" textLength="99.2" lengthAdjust="spacingAndGlyphs">keringcn.com</text>
</svg></body></html>
